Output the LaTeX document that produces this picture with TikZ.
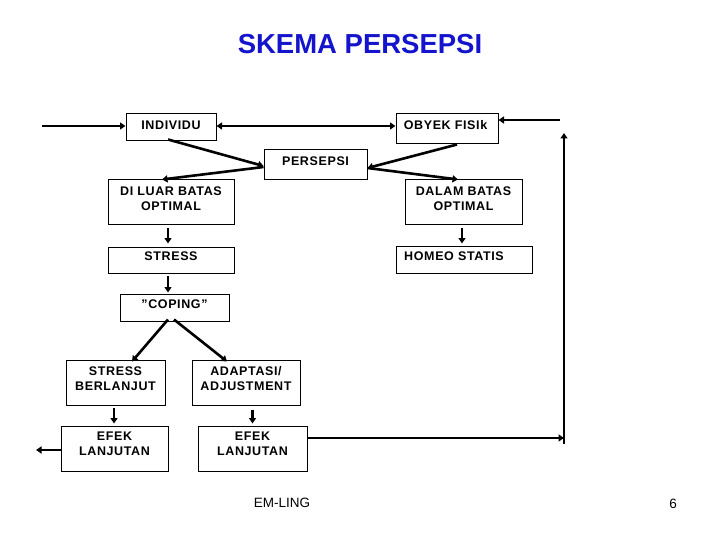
\documentclass[tikz,border=0pt]{standalone}
\usepackage{fontspec}
\setmainfont{Liberation Sans}
\newfontfamily\boxfont[LetterSpace=5]{Liberation Sans}
\usetikzlibrary{arrows.meta}
\definecolor{titleblue}{RGB}{20,20,205}
\tikzset{
  box/.style={draw, line width=1pt, rectangle, inner sep=0pt},
  txt/.style={font=\boxfont\bfseries\fontsize{12.5}{15}\selectfont, align=center, inner sep=0pt},
  conn/.style={line width=2.6pt, -{Triangle[length=5.5pt,width=7pt]}},
  conn2/.style={line width=2.6pt, {Triangle[length=5.5pt,width=7pt]}-{Triangle[length=5.5pt,width=7pt]}},
}
\begin{document}
\begin{tikzpicture}[x=1pt,y=-1pt]
\useasboundingbox (0,0) rectangle (720,540);
\node[font=\bfseries\fontsize{27.5}{31}\selectfont, text=titleblue] (title) at (360,44) {SKEMA PERSEPSI};

\node[box, minimum width=90pt, minimum height=27pt, label={[txt,yshift=2.5pt]center:INDIVIDU}] (ind) at (171,127.5) {};
\node[box, minimum width=102pt, minimum height=30pt, label={[txt,yshift=4pt,xshift=-1.5pt]center:OBYEK FISIk}] (oby) at (447,129) {};
\node[box, minimum width=103pt, minimum height=30pt, label={[txt,yshift=4pt]center:PERSEPSI}] (per) at (315.5,165) {};
\node[box, minimum width=126pt, minimum height=45pt, label={[txt,yshift=4pt]center:DI LUAR BATAS\\OPTIMAL}] (dil) at (171,202.5) {};
\node[box, minimum width=117pt, minimum height=45pt, label={[txt,yshift=4pt]center:DALAM BATAS\\OPTIMAL}] (dal) at (463.5,202.5) {};
\node[box, minimum width=126pt, minimum height=26pt, label={[txt,yshift=4pt]center:STRESS}] (str) at (171,260) {};
\node[box, minimum width=136pt, minimum height=27pt, label={[txt,yshift=3.5pt,xshift=-10pt]center:HOMEO STATIS}] (hom) at (464,259.5) {};
\node[box, minimum width=109pt, minimum height=27pt, label={[txt,yshift=3.5pt]center:”COPING”}] (cop) at (174.5,307.5) {};
\node[box, minimum width=99pt, minimum height=45pt, label={[txt,yshift=4pt]center:STRESS\\BERLANJUT}] (sbl) at (115.5,382.5) {};
\node[box, minimum width=108pt, minimum height=45pt, label={[txt,yshift=4pt]center:ADAPTASI/\\ADJUSTMENT}] (ada) at (246,382.5) {};
\node[box, minimum width=107pt, minimum height=45pt, label={[txt,yshift=4.5pt]center:EFEK\\LANJUTAN}] (ef1) at (114.5,448.5) {};
\node[box, minimum width=109pt, minimum height=45pt, label={[txt,yshift=4.5pt]center:EFEK\\LANJUTAN}] (ef2) at (252.5,448.5) {};

\node[font=\fontsize{13.5}{16}\selectfont] (emling) at (282,503) {EM-LING};
\node[font=\fontsize{13.5}{16}\selectfont] (pnum) at (673,504) {6};

% outer connectors
\coordinate (inL) at (42,126);
\draw[conn] (inL) -- (inL -| ind.west);
\draw[conn2] ([yshift=1.5pt]ind.east) -- ([yshift=1.5pt]ind.east -| oby.west);
\coordinate (rtop) at (560,120);
\draw[conn] (rtop) -- (rtop -| oby.east);
\coordinate (rbot) at (564,444);
\coordinate (rup) at (564,133);
\coordinate (rmid) at (564,438);
\draw[line width=2.6pt] (rbot) -- (rmid);
\draw[conn] (rmid) -- (rup);
\draw[conn] (ef2.east |- rmid) -- (rmid);
\coordinate (outL) at (36,450);
\draw[conn] (ef1.west |- outL) -- (outL);

% flow
\draw[conn] ([xshift=-3pt,yshift=2pt]ind.south) -- ([yshift=-1pt]per.west);
\draw[conn] ([xshift=10pt]oby.south) -- ([yshift=-3pt]per.east);
\draw[conn] ([yshift=-2pt]per.west) -- ([xshift=-9pt]dil.north);
\draw[conn] ([yshift=-3pt]per.east) -- ([xshift=-5.5pt]dal.north);
\draw[conn, shorten <=3pt, shorten >=2pt] ([xshift=-1.5pt]dal.south) -- ([xshift=-1.5pt]dal.south |- hom.north);
\draw[conn, shorten <=3pt, shorten >=3pt] ([xshift=-3pt]dil.south) -- ([xshift=-3pt]dil.south |- str.north);
\draw[conn, shorten <=2pt, shorten >=1pt] ([xshift=-3pt]str.south) -- ([xshift=-3pt]str.south |- cop.north);
\draw[conn] ([xshift=-6.5pt,yshift=2pt]cop.south) -- ([xshift=16.5pt,yshift=-2pt]sbl.north);
\draw[conn] ([xshift=-0.5pt,yshift=2pt]cop.south) -- ([xshift=-19pt,yshift=-2pt]ada.north);
\draw[conn, shorten <=2pt, shorten >=2pt] ([xshift=-1.5pt]sbl.south) -- ([xshift=-1.5pt]sbl.south |- ef1.north);
\draw[conn, shorten <=4pt, shorten >=2pt] (ef2.north |- ada.south) -- (ef2.north);
\end{tikzpicture}
\end{document}
